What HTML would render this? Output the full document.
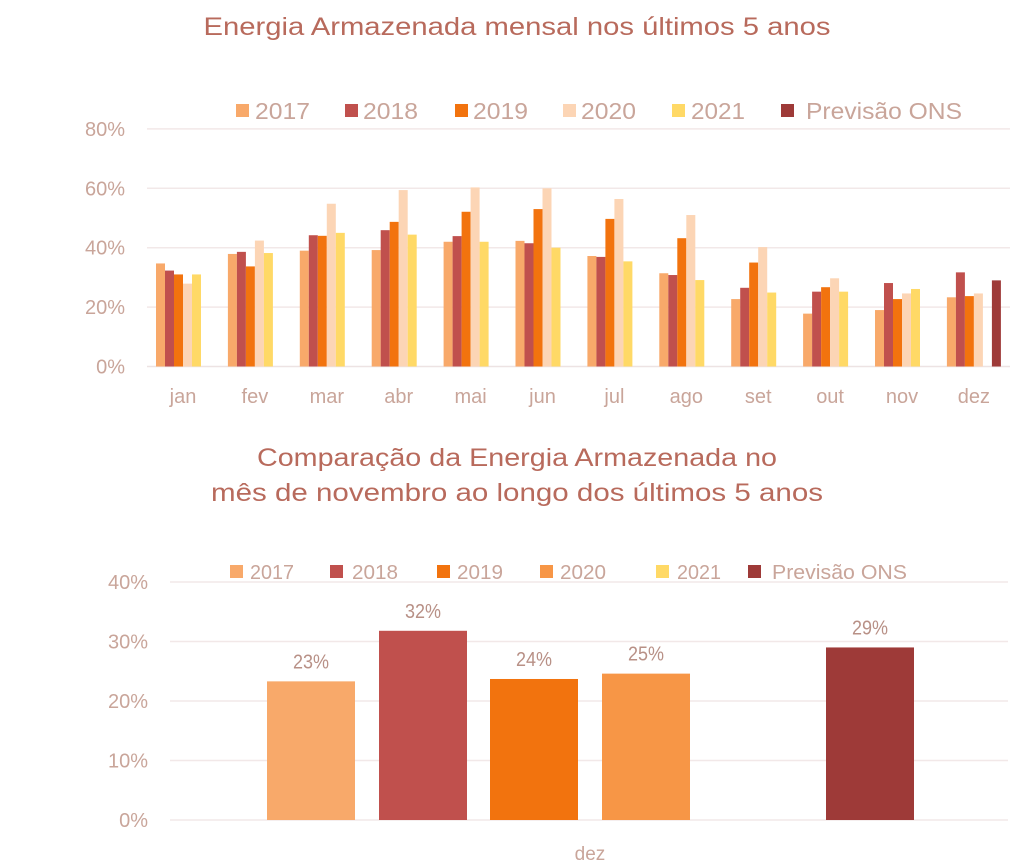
<!DOCTYPE html>
<html><head><meta charset="utf-8"><style>
html,body{margin:0;padding:0;background:#fff;}
svg{display:block;}
text{font-family:"Liberation Sans",sans-serif;}
</style></head><body>
<svg id="s" width="1024" height="866" xmlns="http://www.w3.org/2000/svg">
<text x="517" y="35" text-anchor="middle" font-size="25" fill="#B86A5C" textLength="627" lengthAdjust="spacingAndGlyphs">Energia Armazenada mensal nos últimos 5 anos</text>
<g id="gtop"></g>
<text x="517" y="466" text-anchor="middle" font-size="25" fill="#B86A5C" textLength="520" lengthAdjust="spacingAndGlyphs">Comparação da Energia Armazenada no</text>
<text x="517" y="501" text-anchor="middle" font-size="25" fill="#B86A5C" textLength="612" lengthAdjust="spacingAndGlyphs">mês de novembro ao longo dos últimos 5 anos</text>
<g id="gbot"></g>
</svg>
<script>
(function(){
var NS="http://www.w3.org/2000/svg";
function el(p,t,a,txt){var e=document.createElementNS(NS,t);for(var k in a)e.setAttribute(k,a[k]);if(txt!=null)e.textContent=txt;p.appendChild(e);return e;}
var C=["#F8A96A","#C0504D","#F2730E","#FCD5B5","#FFD966","#9E3A38"];
var tc="#C9A59A";
var gt=document.getElementById("gtop");
[0,20,40,60,80].forEach(function(v){var y=366.5-v*2.97;
 el(gt,"line",{x1:147,x2:1010,y1:y,y2:y,stroke:v==0?"#EDE3E3":"#F2E8E8","stroke-width":1.5});
 el(gt,"text",{x:125,y:y+7,"text-anchor":"end","font-size":20,fill:tc},v+"%");});
var D=[[34.7,32.3,31,27.9,31],[37.9,38.6,33.7,42.4,38.2],[39,44.2,44,54.8,45],[39.2,45.9,48.7,59.4,44.4],[42,43.9,52.1,60.3,42],[42.3,41.5,53,60,40],[37.2,36.9,49.7,56.4,35.4],[31.4,30.8,43.2,51,29.1],[22.7,26.5,35,40.2,24.9],[17.8,25.2,26.7,29.7,25.2],[19,28.1,22.7,24.6,26.1],[23.3,31.7,23.7,24.6,null,29]];
var M=["jan","fev","mar","abr","mai","jun","jul","ago","set","out","nov","dez"];
D.forEach(function(r,m){var x0=156+71.9*m;
 r.forEach(function(v,s){if(v==null)return;var h=v*2.97;el(gt,"rect",{x:x0+9*s,y:366.5-h,width:9,height:h,fill:C[s]});});
 el(gt,"text",{x:x0+27,y:403,"text-anchor":"middle","font-size":20,fill:tc},M[m]);});
var L=[["2017",236,255,55],["2018",345,363,55],["2019",455,473,55],["2020",563,581,55],["2021",672,691,54],["Previsão ONS",781,806,156]];
L.forEach(function(l,i){el(gt,"rect",{x:l[1],y:104,width:13,height:13,fill:C[i]});el(gt,"text",{x:l[2],y:119,"font-size":23,fill:tc,textLength:l[3],lengthAdjust:"spacingAndGlyphs"},l[0]);});
var gb=document.getElementById("gbot");
[0,10,20,30,40].forEach(function(v){var y=820-v*5.95;
 el(gb,"line",{x1:170,x2:1008,y1:y,y2:y,stroke:"#F2E8E8","stroke-width":1.5});
 el(gb,"text",{x:148,y:y+7,"text-anchor":"end","font-size":20,fill:tc},v+"%");});
var B=[[267,23.3,C[0],"23%"],[379,31.8,C[1],"32%"],[490,23.7,C[2],"24%"],[602,24.6,"#F79646","25%"],[826,29,C[5],"29%"]];
B.forEach(function(b){var h=b[1]*5.95;el(gb,"rect",{x:b[0],y:820-h,width:88,height:h,fill:b[2]});
 el(gb,"text",{x:b[0]+44,y:820-h-13,"text-anchor":"middle","font-size":20,fill:"#B89086",textLength:36,lengthAdjust:"spacingAndGlyphs"},b[3]);});
el(gb,"text",{x:590,y:860,"text-anchor":"middle","font-size":19,fill:tc},"dez");
var BL=[["2017",230,250,44],["2018",330,352,46],["2019",437,457,46],["2020",540,560,46],["2021",656,677,44],["Previsão ONS",748,772,135]];
var BC=[C[0],C[1],C[2],"#F79646",C[4],C[5]];
BL.forEach(function(l,i){el(gb,"rect",{x:l[1],y:565,width:13,height:13,fill:BC[i]});el(gb,"text",{x:l[2],y:579,"font-size":20,fill:tc,textLength:l[3],lengthAdjust:"spacingAndGlyphs"},l[0]);});
})();
</script>
</body></html>
